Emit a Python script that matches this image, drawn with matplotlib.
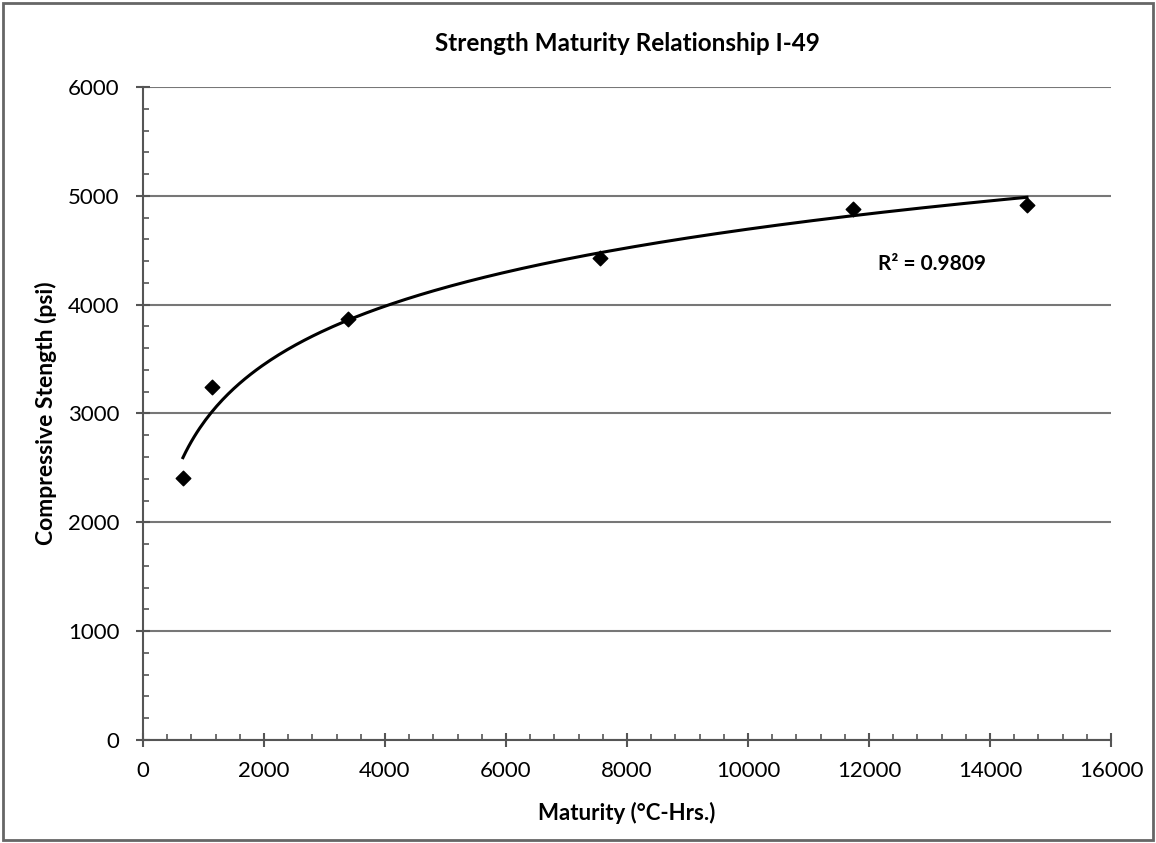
import numpy as np
import matplotlib.pyplot as plt
from matplotlib.ticker import MultipleLocator

# data
maturity = [660, 1140, 3390, 7550, 11740, 14610]
strength = [2410, 3240, 3870, 4430, 4880, 4920]
r2_label = "R² = 0.9809"

plt.rcParams['font.family'] = ['Lato', 'DejaVu Sans']

fig = plt.figure(figsize=(11.56, 8.43), dpi=100)
ax = fig.add_axes([0.1237, 0.1222, 0.9611 - 0.1237, 0.8968 - 0.1222])

# logarithmic trendline, fitted on the points
x = np.array(maturity, dtype=float)
y = np.array(strength, dtype=float)
b, a = np.polyfit(np.log(x), y, 1)
xs = np.linspace(x.min(), x.max(), 300)
ax.plot(xs, a + b * np.log(xs), color='black', lw=2.2, zorder=3)

ax.scatter(maturity, strength, marker='D', s=55, color='black', zorder=4)

ax.set_xlim(0, 16000)
ax.set_ylim(0, 6000)
ax.xaxis.set_major_locator(MultipleLocator(2000))
ax.xaxis.set_minor_locator(MultipleLocator(400))
ax.yaxis.set_major_locator(MultipleLocator(1000))
ax.yaxis.set_minor_locator(MultipleLocator(200))

ax.grid(axis='y', which='major', color='#777777', lw=1.5)
ax.set_axisbelow(True)
for s in ['top', 'right']:
    ax.spines[s].set_visible(False)
for s in ['left', 'bottom']:
    ax.spines[s].set_color('#555555')
    ax.spines[s].set_linewidth(1.5)

ax.tick_params(which='major', direction='inout', length=10, width=1.5, color='#555555',
               labelsize=16)
ax.tick_params(axis='y', which='major', pad=12)
ax.tick_params(axis='x', which='major', pad=10)
ax.tick_params(which='minor', direction='in', length=4, width=1.2, color='#555555')

ax.set_title("Strength Maturity Relationship I-49", fontsize=17.5, fontweight='bold', pad=26)
ax.set_xlabel("Maturity (°C-Hrs.)", fontsize=16, fontweight='bold', labelpad=15)
ax.set_ylabel("Compressive Stength (psi)", fontsize=16.5, fontweight='bold', labelpad=8)

ax.text(13040, 4370, r2_label, fontsize=15, fontweight='bold', ha='center', va='center')

# thin frame round the whole figure
fig.patches.append(plt.Rectangle((0.003, 0.003), 0.994, 0.994, transform=fig.transFigure,
                                 fill=False, edgecolor='#666666', lw=2))

fig.savefig('out.png', dpi=100)
